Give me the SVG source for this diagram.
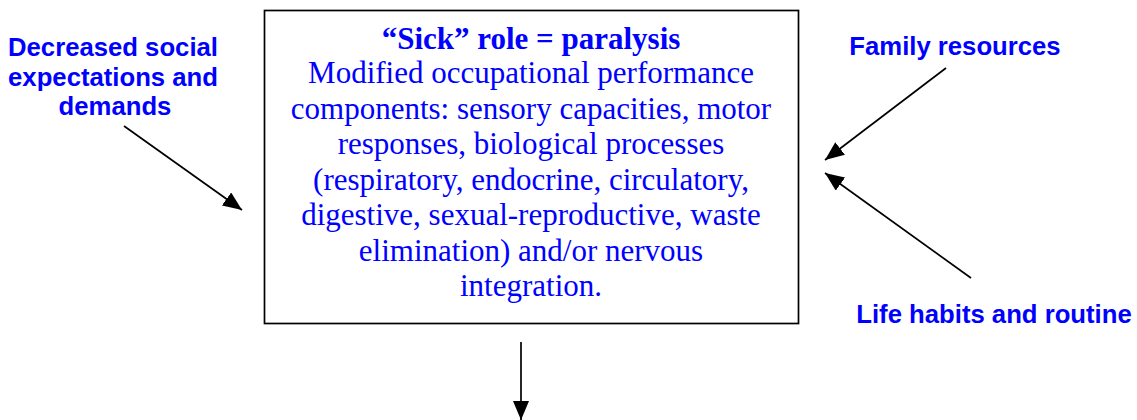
<svg xmlns="http://www.w3.org/2000/svg" width="1137" height="420" viewBox="0 0 1137 420">
<style>
.lbl{font-family:"Liberation Sans",Arial,sans-serif;font-weight:bold;font-size:25.7px;fill:#0000ff;text-anchor:middle}
.body{font-family:"Liberation Serif","Times New Roman",serif;font-size:31px;fill:#0000ff;text-anchor:middle}
.title{font-weight:bold}
.conn{stroke:#000;stroke-width:1.7;fill:none;marker-end:url(#ah)}
</style>
<defs>
<marker id="ah" markerUnits="userSpaceOnUse" markerWidth="20" markerHeight="16" refX="19" refY="8" orient="auto">
<path d="M0,0 L19,8 L0,16 Z" fill="#000"/>
</marker>
</defs>
<rect width="1137" height="420" fill="#fff"/>
<g id="main">
<rect x="264.5" y="10.5" width="534" height="313" fill="#fff" stroke="#000" stroke-width="1.7"/>
<text class="body title" x="531" y="49">“Sick” role = paralysis</text>
<text class="body" x="531" y="83">Modified occupational performance</text>
<text class="body" x="531" y="119">components: sensory capacities, motor</text>
<text class="body" x="531" y="154">responses, biological processes</text>
<text class="body" x="531" y="190">(respiratory, endocrine, circulatory,</text>
<text class="body" x="531" y="225">digestive, sexual-reproductive, waste</text>
<text class="body" x="531" y="261">elimination) and/or nervous</text>
<text class="body" x="531" y="296">integration.</text>
</g>
<g id="social">
<text class="lbl" x="113" y="56">Decreased social</text>
<text class="lbl" x="113" y="86">expectations and</text>
<text class="lbl" x="115" y="115">demands</text>
</g>
<g id="family">
<text class="lbl" x="955" y="55">Family resources</text>
</g>
<g id="life">
<text class="lbl" x="994" y="323">Life habits and routine</text>
</g>
<g id="connectors">
<line class="conn" x1="124" y1="126" x2="242" y2="210"/>
<line class="conn" x1="946" y1="68" x2="825" y2="160"/>
<line class="conn" x1="971" y1="278" x2="825" y2="173"/>
<line class="conn" x1="521" y1="342" x2="521" y2="420"/>
</g>
</svg>
